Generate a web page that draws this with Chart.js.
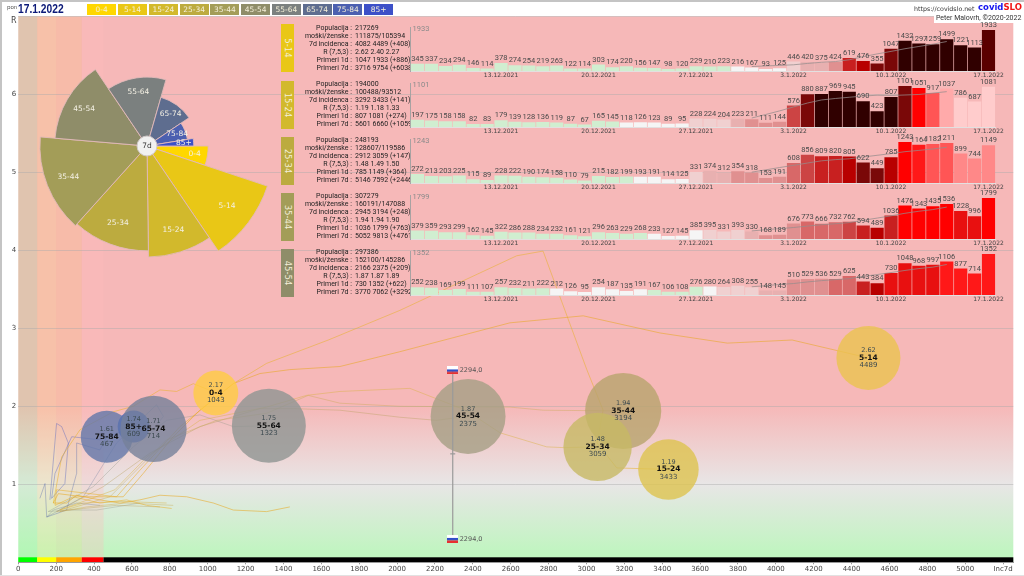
<!DOCTYPE html>
<html>
<head>
<meta charset="utf-8">
<title>covidSLO</title>
<script src="https://cdn.jsdelivr.net/npm/chart.js@4"></script>
<style>
    html, body { margin: 0; padding: 0; background: #fff; }
    #page { position: relative; width: 1024px; height: 576px; overflow: hidden; font-family: 'DejaVu Sans', sans-serif; color: #333; }
    #page canvas { position: absolute; }
    .abs { position: absolute; white-space: nowrap; }
    .legend-box { position: absolute; top: 4px; height: 11px; width: 29px; line-height: 11px; text-align: center; font-size: 7.5px; color: #f4efd8; }
    .frame { position: absolute; background: #c4c4c4; }
    .info-row { position: absolute; height: 8px; line-height: 8px; font-family: Roboto, sans-serif; font-size: 7px; color: #222; white-space: nowrap; }
    .info-label { position: absolute; right: 58px; }
    .info-clip { position: absolute; left: 281px; width: 129px; overflow: hidden; height: 60px; }
    .tag { position: absolute; left: 281px; width: 13px; height: 48px; color: #f4efd8; font-size: 8.5px; }
    .tag span { position: absolute; left: 6.5px; top: 24px; transform: translate(-50%, -50%) rotate(90deg); white-space: nowrap; }
</style>
</head>
<body>
<div id="page">
    <canvas id="mainChart" width="1024" height="576" style="left:0;top:0"></canvas>
    <canvas id="roseChart" width="260" height="260" style="left:17px;top:16px"></canvas>
    <div class="frame" style="left:0;top:0;width:1024px;height:2px"></div>
    <div class="frame" style="left:0;top:0;width:1.5px;height:576px"></div>
    <div class="frame" style="left:0;top:575px;width:1024px;height:1px;background:#e2e2e2"></div>
    <span class="abs" style="left:7px;top:4px;font-size:5.5px;color:#555">pon</span>
    <span class="abs" style="left:18px;top:1px;font-family:'Liberation Sans Narrow','Liberation Sans',sans-serif;font-size:12.5px;line-height:16px;font-weight:bold;color:#0c1a78;transform:scaleX(.82);transform-origin:left">17.1.2022</span>
    <span class="abs" style="left:11px;top:16px;font-size:8px;color:#444">R</span>
    <span class="abs" style="left:914px;top:4px;font-size:6.3px;line-height:9px;color:#333">https://covidslo.net</span>
    <span class="abs" style="left:978px;top:2px;font-size:8.5px;line-height:11px;font-weight:bold;color:#1414f0">covid<span style="color:#f01414">SLO</span></span>
    <span class="abs" style="left:934px;top:14px;height:9px;padding:0 2px;background:#fff;font-family:Roboto,sans-serif;font-size:7px;line-height:9px;color:#333">Peter Malovrh, ©2020-2022</span>
    <div id="legendRow"></div>
    <div id="panels"></div>
</div>

<script>
// Age groups
const ageGroups = ['0-4', '5-14', '15-24', '25-34', '35-44', '45-54', '55-64', '65-74', '75-84', '85+'];
const population = [107000, 217269, 194000, 248193, 307279, 297386, 290000, 233000, 143000, 54000];
const inc7d = [1043, 4489, 3433, 3059, 3194, 2375, 1323, 714, 467, 609];
const rValues = [2.17, 2.62, 1.19, 1.48, 1.94, 1.87, 1.75, 1.71, 1.61, 1.74];

// Trails [inc7d, R] for each age group
const trail0to4 = [[185,.76],[229,1.35],[326,1.70],[502,1.93],[607,2.0],[748,2.21],[836,2.19],[924,2.29],[1047,2.17]];
const trail5to14 = [[1434,.71],[1311,.65],[1135,.67],[1030,.76],[889,.84],[748,.86],[642,.80],[537,.76],[431,.80],[308,.86],[255,.76],[185,.76],[211,.88],[343,.84],[554,.84],[660,1.14],[818,1.61],[959,1.95],[1135,2.29],[1276,2.42],[1434,2.47],[1698,2.51],[2015,2.7],[2596,3.07],[2983,3.16],[3389,2.94],[3744,2.81],[4086,2.85],[4489,2.62]];
const trail15to24 = [[810,.69],[678,.73],[572,.8],[431,.76],[290,.84],[220,.76],[194,.73],[202,.93],[519,.84],[642,1.18],[854,1.74],[1135,2.29],[1311,2.55],[1637,2.85],[2015,3.23],[2632,3.93],[2771,3.99],[3002,2.47],[3088,1.95],[3056,1.53],[3160,1.21],[3433,1.19]];
const trail25to34 = [[783,.76],[537,.78],[343,.76],[220,.67],[510,.93],[678,1.35],[959,1.82],[1311,1.99],[1522,2.14],[1698,2.19],[2068,2.23],[2362,1.95],[2544,1.66],[2790,1.48],[2880,1.47],[3059,1.48]];
const trail35to44 = [[818,.73],[572,.76],[361,.71],[220,.65],[484,.84],[783,1.57],[1047,1.82],[1311,1.91],[1531,2.14],[1698,2.04],[2015,2.0],[2596,1.99],[2771,1.95],[3194,1.94]];
const trail45to54 = [[748,.71],[519,.73],[343,.69],[202,.65],[449,.97],[695,1.4],[959,1.74],[1276,1.97],[1452,1.97],[1698,1.95],[2015,1.86],[2208,1.82],[2300,1.85],[2375,1.87]];
const trail55to64 = [[642,.76],[414,.67],[255,.67],[158,.65],[396,.97],[607,1.48],[783,1.82],[959,1.89],[1135,1.74],[1323,1.75]];
const trail65to74 = [[431,.73],[308,.76],[185,.67],[150,.58],[343,.84],[519,1.53],[730,2.02],[766,1.87],[714,1.71]];
const trail75to84 = [[114,.82],[141,1.01],[150,.58],[255,.67],[308,1.14],[308,1.53],[431,1.44],[467,1.61]];
const trail85plus = [[167,.8],[202,1.78],[229,1.74],[264,1.53],[246,1.01],[176,.82],[194,1.14],[282,1.61],[431,1.57],[609,1.74]];
const trails = [trail0to4, trail5to14, trail15to24, trail25to34, trail35to44, trail45to54, trail55to64, trail65to74, trail75to84, trail85plus];

// National value
const nationalInc = 2294;
const nationalFlagR = [2.46, 0.3];
const nationalR = 1.39;

// Incidence bands along the x axis
const bandEdges = [0, 100, 200, 335, 450, 5254];

// Days on the small bar panels
const days = ['7.12.2021','8.12.2021','9.12.2021','10.12.2021','11.12.2021','12.12.2021','13.12.2021','14.12.2021','15.12.2021','16.12.2021','17.12.2021','18.12.2021','19.12.2021','20.12.2021','21.12.2021','22.12.2021','23.12.2021','24.12.2021','25.12.2021','26.12.2021','27.12.2021','28.12.2021','29.12.2021','30.12.2021','31.12.2021','1.1.2022','2.1.2022','3.1.2022','4.1.2022','5.1.2022','6.1.2022','7.1.2022','8.1.2022','9.1.2022','10.1.2022','11.1.2022','12.1.2022','13.1.2022','14.1.2022','15.1.2022','16.1.2022','17.1.2022'];
const tickDays = ['13.12.2021', '20.12.2021', '27.12.2021', '3.1.2022', '10.1.2022', '17.1.2022'];

// Daily cases
const cases5to14 = [345,337,234,294,146,114,378,274,254,219,263,122,114,303,174,220,156,147,98,120,229,210,223,216,167,93,125,446,420,375,424,619,476,355,1047,1432,1297,1259,1499,1221,1113,1933];
const cases15to24 = [197,175,158,158,82,83,179,139,128,136,119,87,67,165,145,118,126,123,89,95,228,224,204,223,211,111,144,576,880,887,969,945,690,423,807,1101,1051,917,1037,786,687,1081];
const cases25to34 = [272,213,203,225,115,89,228,222,190,174,158,110,79,215,182,199,193,191,114,125,331,374,312,354,318,153,191,608,856,809,820,805,622,449,785,1243,1164,1182,1211,899,744,1149];
const cases35to44 = [379,359,293,299,162,145,322,286,288,234,232,161,121,296,263,229,268,233,127,145,385,395,331,393,330,168,189,676,773,666,732,762,594,489,1036,1476,1343,1435,1536,1228,996,1799];
const cases45to54 = [252,238,169,199,111,107,257,232,211,222,212,126,95,254,187,135,191,167,106,108,276,280,264,308,255,148,145,510,529,536,529,625,443,384,730,1048,968,997,1106,877,714,1352];

// Weekly average line, from 31.12.2021 to 14.1.2022
const avgStart = 24;
const avg5to14 = [211,241,263,293,357,412,445,531,675,807,926,1052,1159,1267,1393];
const avg15to24 = [242,336,433,540,645,727,767,800,832,855,848,861,875,912,951];
const avg25to34 = [330,399,470,536,606,673,710,735,790,841,893,951,990,1033,1085];
const avg35to44 = [355,409,456,505,567,627,670,722,822,919,1019,1130,1220,1293,1402];
const avg45to54 = [273,308,347,379,432,474,508,539,614,675,742,811,873,920,1009];

// Info texts next to each bar panel
const infoLabels = ['Populacija', 'moški/ženske', '7d incidenca', 'R (7,5,3)', 'Primeri 1d', 'Primeri 7d'];
const info5to14 = ['217269', '111875/105394', '4082 4489 (+408)', '2.62 2.40 2.27', '1047 1933 (+886)', '3716 9754 (+6038)'];
const info15to24 = ['194000', '100488/93512', '3292 3433 (+141)', '1.19 1.18 1.33', '807 1081 (+274)', '5601 6660 (+1059)'];
const info25to34 = ['248193', '128607/119586', '2912 3059 (+147)', '1.48 1.49 1.50', '785 1149 (+364)', '5146 7592 (+2446)'];
const info35to44 = ['307279', '160191/147088', '2945 3194 (+248)', '1.94 1.94 1.90', '1036 1799 (+763)', '5052 9813 (+4761)'];
const info45to54 = ['297386', '152100/145286', '2166 2375 (+209)', '1.87 1.87 1.89', '730 1352 (+622)', '3770 7062 (+3292)'];

// Colours
const groupColors = ['#ffd700', '#e9c716', '#d2b92c', '#bcab3f', '#a39d58', '#8f8d69', '#7b807f', '#5e6d8f', '#4c60b0', '#3c50c8'];
const bubbleColors = ['#ffcc42', '#ebc34f', '#ddc34f', '#c7b964', '#b8a46d', '#a59f85', '#8f9592', '#75819a', '#6277a9', '#3359c2'];
const trailColors = ['#e8b020a0', '#e8a820b0', '#e8b030b0', '#d8b04090', '#c8a85080', '#b8a06080', '#90948870', '#7080a070', '#6070b080', '#5060c080'];
const bandStrip = ['#00ff00', '#ffff00', '#ffa500', '#ff0000', '#000000'];
const bandTint = ['rgba(120,255,130,.17)', 'rgba(255,230,110,.2)', 'rgba(255,200,110,.2)', 'rgba(255,190,190,.3)', 'rgba(0,0,0,0)'];
const shades = {
    a: '#d0eed0', b: '#f5f5f5', c: '#f0d0d0', d: '#e8b0b0', e: '#e09090', f: '#d86868', g: '#cc4444',
    h: '#c82020', i: '#e81010', j: '#ff0000', k: '#ff1818', l: '#ff5555', m: '#ff8888', n: '#ffaaaa',
    o: '#ffcccc', p: '#b80000', q: '#7a0808', r: '#5a0000', s: '#300000'
};
const shade5to14 = 'a'.repeat(23) + 'bbbb' + 'cddehpqqssssssr';
const shade15to24 = 'a'.repeat(15) + 'bbbbb' + 'cccdeee' + 'gqssssssqjlnooo';
const shade25to34 = 'a'.repeat(16) + 'bbbb' + 'cddeeee' + 'fghhpqqpjkllmmm';
const shade35to44 = 'a'.repeat(17) + 'bbbb' + 'cccdee' + 'efffghphjjjjiij';
const shade45to54 = 'a'.repeat(10) + 'b'.repeat(7) + 'aaaa' + 'bcccdd' + 'eeeffhpiiiikkkk';

const labelFont = "'DejaVu Sans', sans-serif";
const narrowFont = "'Liberation Sans Narrow', Roboto, sans-serif";
Chart.defaults.font.family = labelFont;
Chart.defaults.color = '#444';
Chart.defaults.animation = false;

// Legend boxes across the top
const legendRow = document.getElementById('legendRow');
ageGroups.forEach(function(age, i) {
    const box = document.createElement('div');
    box.className = 'legend-box';
    box.style.left = (87.3 + i * 30.75) + 'px';
    box.style.background = groupColors[i];
    box.textContent = age;
    legendRow.appendChild(box);
});

// Small Slovenian flag used as a point marker
function makeFlag() {
    const flag = document.createElement('canvas');
    flag.width = 11;
    flag.height = 8;
    const c = flag.getContext('2d');
    c.fillStyle = '#ffffff';
    c.fillRect(0, 0, 11, 3);
    c.fillStyle = '#3050c8';
    c.fillRect(0, 3, 11, 2.5);
    c.fillStyle = '#e83030';
    c.fillRect(0, 5.5, 11, 2.5);
    return flag;
}
const flagMarker = makeFlag();

// Paints the R gradient, the incidence bands and the strip above the x axis
const backgroundPlugin = {
    id: 'backgroundPlugin',
    beforeDraw: function(chart) {
        const { ctx, chartArea: area, scales: { x, y } } = chart;
        const grad = ctx.createLinearGradient(0, area.top, 0, area.bottom);
        const stop = function(r) { return (y.getPixelForValue(r) - area.top) / (area.bottom - area.top); };
        grad.addColorStop(0, '#f6b8b8');
        grad.addColorStop(stop(2.0), '#f6b8b8');
        grad.addColorStop(stop(1.0), '#e8e6e6');
        grad.addColorStop(stop(0.12), '#c0f5c0');
        grad.addColorStop(1, '#c0f5c0');
        ctx.save();
        ctx.fillStyle = grad;
        ctx.fillRect(area.left, area.top, area.width, area.height);
        for (let i = 0; i < bandStrip.length; i++) {
            const left = x.getPixelForValue(bandEdges[i]);
            const right = x.getPixelForValue(bandEdges[i + 1]);
            ctx.fillStyle = bandTint[i];
            ctx.fillRect(left, area.top, right - left, area.height);
            ctx.fillStyle = bandStrip[i];
            ctx.fillRect(left, area.bottom - 5, right - left, 5);
        }
        ctx.restore();
    }
};

// Three text lines on every bubble, and the flag values
const bubbleLabelPlugin = {
    id: 'bubbleLabelPlugin',
    afterDatasetsDraw: function(chart) {
        const { ctx, scales: { x, y } } = chart;
        ctx.save();
        ctx.textAlign = 'center';
        ctx.textBaseline = 'middle';
        ageGroups.forEach(function(age, i) {
            const px = x.getPixelForValue(inc7d[i]);
            const py = y.getPixelForValue(rValues[i]);
            ctx.fillStyle = '#3c4a50';
            ctx.font = '6.5px ' + labelFont;
            ctx.fillText(rValues[i].toFixed(2), px, py - 7.5);
            ctx.fillStyle = '#111';
            ctx.font = 'bold 7.5px ' + labelFont;
            ctx.fillText(age, px, py);
            ctx.fillStyle = '#3c4a50';
            ctx.font = '7px ' + labelFont;
            ctx.fillText(inc7d[i], px, py + 7.5);
        });
        ctx.textAlign = 'left';
        ctx.fillStyle = '#555';
        ctx.font = '6.5px ' + labelFont;
        nationalFlagR.forEach(function(r) {
            ctx.fillText('2294,0', x.getPixelForValue(nationalInc) + 7, y.getPixelForValue(r));
        });
        ctx.restore();
    }
};

// Main bubble chart with the trails behind it
const mainDatasets = [];
ageGroups.forEach(function(age, i) {
    mainDatasets.push({
        label: age,
        type: 'bubble',
        order: 1,
        backgroundColor: bubbleColors[i] + 'cc',
        borderWidth: 0,
        data: [{ x: inc7d[i], y: rValues[i], r: 0.0687 * Math.sqrt(population[i]) }]
    });
});
trails.forEach(function(trail, i) {
    mainDatasets.push({
        label: ageGroups[i] + ' trail',
        type: 'line',
        order: 2,
        borderColor: trailColors[i],
        borderWidth: 0.8,
        pointRadius: 0,
        tension: 0,
        data: trail.map(function(p) { return { x: p[0], y: p[1] }; })
    });
});
mainDatasets.push({
    label: 'Slovenija',
    type: 'line',
    order: 0,
    borderColor: '#9a9a9a',
    borderWidth: 1.2,
    pointStyle: flagMarker,
    pointRadius: 5,
    data: nationalFlagR.map(function(r) { return { x: nationalInc, y: r }; })
});
mainDatasets.push({
    label: 'Slovenija R',
    type: 'line',
    order: 0,
    pointStyle: 'line',
    pointRadius: 2.5,
    pointBorderColor: '#8a8a8a',
    pointBorderWidth: 1,
    data: [{ x: nationalInc, y: nationalR }]
});

new Chart(document.getElementById('mainChart'), {
    type: 'bubble',
    data: { datasets: mainDatasets },
    options: {
        responsive: false,
        layout: { autoPadding: false, padding: { top: 16.3, right: 10.7, left: 0, bottom: 0 } },
        plugins: { legend: { display: false }, tooltip: { enabled: false } },
        scales: {
            x: {
                type: 'linear',
                min: 0,
                max: 5254,
                afterFit: function(scale) { scale.height = 13.7; },
                afterBuildTicks: function(scale) {
                    scale.ticks = scale.ticks.filter(function(t) { return t.value % 200 === 0; });
                    scale.ticks.push({ value: 5200 });
                },
                grid: { drawOnChartArea: false, tickLength: 2, color: '#999' },
                border: { color: '#999' },
                ticks: {
                    stepSize: 200,
                    autoSkip: false,
                    maxRotation: 0,
                    padding: 1,
                    font: { size: 7 },
                    callback: function(v) { return v === 5200 ? 'Inc7d' : v; }
                }
            },
            y: {
                min: 0,
                max: 7,
                afterFit: function(scale) { scale.width = 18.3; },
                grid: { color: 'rgba(170,170,170,.45)', drawTicks: false },
                border: { display: false },
                ticks: {
                    stepSize: 1,
                    padding: 2,
                    font: { size: 7 },
                    callback: function(v) { return (v === 0 || v === 7) ? '' : v; }
                }
            }
        }
    },
    plugins: [backgroundPlugin, bubbleLabelPlugin]
});

// Rose of the 7 day incidence: slice angle follows population, radius the incidence
const populationSum = population.reduce(function(a, b) { return a + b; }, 0);
const sliceAngles = population.map(function(p) { return p / populationSum * 360; });
const roseRadii = inc7d.map(function(v) { return Math.sqrt(v); });

const roseLabelPlugin = {
    id: 'roseLabelPlugin',
    afterDatasetsDraw: function(chart) {
        const { ctx } = chart;
        const arcs = chart.getDatasetMeta(0).data;
        ctx.save();
        ctx.textAlign = 'center';
        ctx.textBaseline = 'middle';
        ctx.font = '7.5px ' + labelFont;
        ctx.fillStyle = '#f4f0e4';
        arcs.forEach(function(arc, i) {
            const mid = (arc.startAngle + arc.endAngle) / 2;
            const dist = arc.outerRadius * 0.79;
            ctx.fillText(ageGroups[i], arc.x + Math.cos(mid) * dist, arc.y + Math.sin(mid) * dist);
        });
        const cx = arcs[0].x;
        const cy = arcs[0].y;
        ctx.beginPath();
        ctx.arc(cx, cy, 10, 0, Math.PI * 2);
        ctx.fillStyle = '#f1f1f1';
        ctx.fill();
        ctx.strokeStyle = '#d0c8c8';
        ctx.lineWidth = 1;
        ctx.stroke();
        ctx.fillStyle = '#333';
        ctx.fillText('7d', cx, cy);
        ctx.restore();
    }
};

new Chart(document.getElementById('roseChart'), {
    type: 'polarArea',
    data: {
        labels: ageGroups,
        datasets: [{
            data: roseRadii,
            angle: sliceAngles,
            backgroundColor: groupColors,
            borderColor: 'rgba(225,185,185,.9)',
            borderWidth: 1
        }]
    },
    options: {
        responsive: false,
        plugins: { legend: { display: false }, tooltip: { enabled: false } },
        scales: { r: { display: false, min: 0, max: 68.6, startAngle: 90 } }
    },
    plugins: [roseLabelPlugin]
});

// Value labels above the bars and the top value next to the axis
const barLabelPlugin = {
    id: 'barLabelPlugin',
    afterDatasetsDraw: function(chart) {
        const { ctx, chartArea: area } = chart;
        const values = chart.data.datasets[0].data;
        const bars = chart.getDatasetMeta(0).data;
        ctx.save();
        ctx.textAlign = 'center';
        ctx.textBaseline = 'bottom';
        ctx.font = '7.5px ' + narrowFont;
        ctx.fillStyle = '#4a4a4a';
        bars.forEach(function(bar, i) {
            ctx.fillText(values[i], bar.x, bar.y - 1);
        });
        ctx.textAlign = 'left';
        ctx.textBaseline = 'middle';
        ctx.fillStyle = '#8a8a8a';
        ctx.fillText(Math.max.apply(null, values), area.left + 2, area.top + 2);
        ctx.restore();
    }
};

// One bar panel with its tag and info rows
function addPanel(tagIndex, baseline, cases, avg, shade, info) {
    const panels = document.getElementById('panels');

    const tag = document.createElement('div');
    tag.className = 'tag';
    tag.style.top = (baseline - 45.7) + 'px';
    tag.style.background = groupColors[tagIndex];
    tag.innerHTML = '<span>' + ageGroups[tagIndex] + '</span>';
    panels.appendChild(tag);

    const clip = document.createElement('div');
    clip.className = 'info-clip';
    clip.style.top = (baseline - 46.3) + 'px';
    infoLabels.forEach(function(name, r) {
        const row = document.createElement('div');
        row.className = 'info-row';
        row.style.left = '0';
        row.style.width = '129px';
        row.style.top = (r * 8) + 'px';
        row.innerHTML = '<span class="info-label">' + name + ' :</span><span style="position:absolute;left:74px">' + info[r] + '</span>';
        clip.appendChild(row);
    });
    panels.appendChild(clip);

    const canvas = document.createElement('canvas');
    canvas.width = 620;
    canvas.height = 66;
    canvas.style.left = '404px';
    canvas.style.top = (baseline - 53.5) + 'px';
    panels.appendChild(canvas);

    const avgLine = days.map(function(d, i) {
        return (i >= avgStart && i < avgStart + avg.length) ? avg[i - avgStart] : null;
    });

    new Chart(canvas, {
        data: {
            labels: days,
            datasets: [
                {
                    type: 'bar',
                    data: cases,
                    order: 2,
                    categoryPercentage: 1,
                    barPercentage: 0.95,
                    backgroundColor: days.map(function(d, i) { return shades[shade[i]]; })
                },
                {
                    type: 'line',
                    data: avgLine,
                    order: 1,
                    borderColor: 'rgba(150,140,140,.75)',
                    borderWidth: 1,
                    pointRadius: 0
                }
            ]
        },
        options: {
            responsive: false,
            layout: { padding: { top: 10, left: 6.5, right: 28.5, bottom: 0 } },
            plugins: { legend: { display: false }, tooltip: { enabled: false } },
            scales: {
                x: {
                    afterFit: function(scale) { scale.height = 12; },
                    grid: { display: false, drawTicks: false },
                    border: { color: 'rgba(225,225,225,.95)', width: 1 },
                    ticks: {
                        autoSkip: false,
                        maxRotation: 0,
                        padding: 1,
                        font: { size: 6 },
                        callback: function(v, i) { return tickDays.includes(days[i]) ? days[i] : ''; }
                    }
                },
                y: {
                    min: 0,
                    max: Math.max.apply(null, cases) * 1.075,
                    afterFit: function(scale) { scale.width = 0; },
                    grid: { display: false, drawTicks: false },
                    border: { color: 'rgba(160,160,160,.9)' },
                    ticks: { display: false }
                }
            }
        },
        plugins: [barLabelPlugin]
    });
}

addPanel(1, 70, cases5to14, avg5to14, shade5to14, info5to14);
addPanel(2, 126.3, cases15to24, avg15to24, shade15to24, info15to24);
addPanel(3, 182.3, cases25to34, avg25to34, shade25to34, info25to34);
addPanel(4, 238.3, cases35to44, avg35to44, shade35to44, info35to44);
addPanel(5, 294.3, cases45to54, avg45to54, shade45to54, info45to54);
</script>
</body>
</html>
